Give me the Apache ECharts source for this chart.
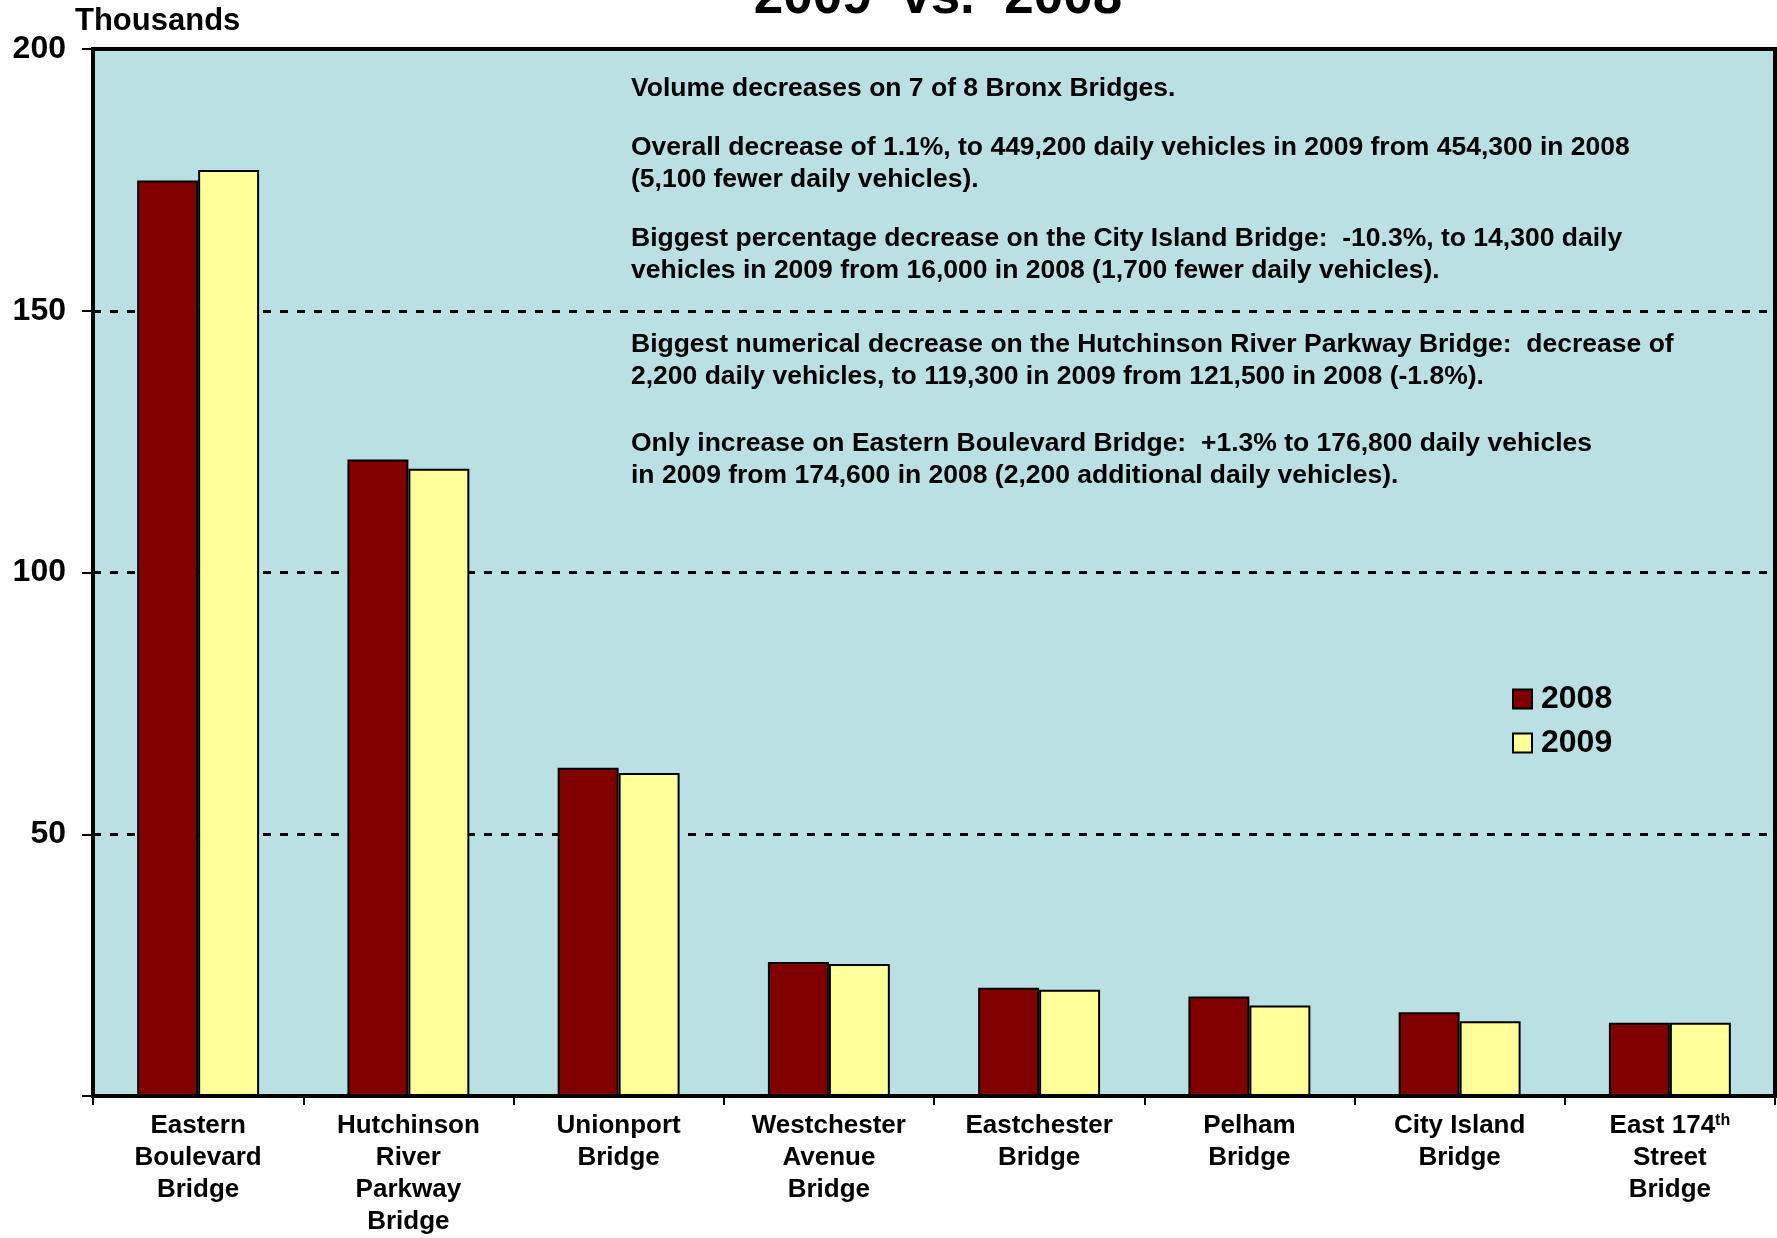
<!DOCTYPE html>
<html>
<head>
<meta charset="utf-8">
<title>Bronx Bridges 2009 vs. 2008</title>
<script src="https://cdn.jsdelivr.net/npm/echarts@6/dist/echarts.min.js"></script>
<style>
    html, body { margin: 0; padding: 0; background: #ffffff; }
    #chart_id { width: 1777px; height: 1238px; }
</style>
</head>
<body>
<div id="chart_id"></div>
<script>
// 数据（单位：千辆/日）
var categories = [
    'Eastern\nBoulevard\nBridge',
    'Hutchinson\nRiver\nParkway\nBridge',
    'Unionport\nBridge',
    'Westchester\nAvenue\nBridge',
    'Eastchester\nBridge',
    'Pelham\nBridge',
    'City Island\nBridge',
    'East 174th\nStreet\nBridge'
];
var seriesNames = ['2008', '2009'];
var values2008 = [174.9, 121.6, 62.7, 25.6, 20.7, 19.0, 16.0, 14.0];
var values2009 = [176.9, 119.8, 61.7, 25.2, 20.3, 17.3, 14.3, 14.0];
var yTicks = [0, 50, 100, 150, 200];

var notes = [
    'Volume decreases on 7 of 8 Bronx Bridges.',
    'Overall decrease of 1.1%, to 449,200 daily vehicles in 2009 from 454,300 in 2008\n(5,100 fewer daily vehicles).',
    'Biggest percentage decrease on the City Island Bridge:  -10.3%, to 14,300 daily\nvehicles in 2009 from 16,000 in 2008 (1,700 fewer daily vehicles).',
    'Biggest numerical decrease on the Hutchinson River Parkway Bridge:  decrease of\n2,200 daily vehicles, to 119,300 in 2009 from 121,500 in 2008 (-1.8%).',
    'Only increase on Eastern Boulevard Bridge:  +1.3% to 176,800 daily vehicles\nin 2009 from 174,600 in 2008 (2,200 additional daily vehicles).'
];
var noteTops = [73, 132, 223, 329, 428];

function initChart() {
    var font = '"Liberation Sans", Arial, sans-serif';
    var myChart = echarts.init(document.getElementById('chart_id'));

    var graphics = [
        {
            type: 'text', position: [938, -2],
            style: {
                text: '2009  vs.  2008',
                font: 'bold 53px ' + font, fill: '#000',
                align: 'center', verticalAlign: 'middle'
            }
        },
        {
            type: 'text', position: [75, 21],
            style: {
                text: 'Thousands', font: 'bold 31px ' + font, fill: '#000',
                align: 'left', verticalAlign: 'middle'
            }
        }
    ];
    for (var i = 0; i < notes.length; i++) {
        graphics.push({
            type: 'text', position: [631, noteTops[i]], z: 10,
            style: {
                text: notes[i], font: 'bold 26.5px ' + font, fill: '#000',
                lineHeight: 32, align: 'left', verticalAlign: 'top'
            }
        });
    }

    var option = {
        animation: false,
        backgroundColor: '#ffffff',
        textStyle: { fontFamily: font },
        grid: {
            left: 93, right: 2, top: 49, bottom: 139,
            show: true,
            backgroundColor: '#BBE0E3',
            borderColor: '#000',
            borderWidth: 4
        },
        legend: {
            orient: 'vertical',
            left: 1507, top: 678,
            itemWidth: 19, itemHeight: 19,
            itemGap: 12,
            icon: 'rect',
            data: seriesNames,
            textStyle: {
                fontSize: 32, fontWeight: 'bold', color: '#000', fontFamily: font,
                padding: [0, 0, 0, 4]
            }
        },
        xAxis: {
            type: 'category',
            data: categories,
            axisLine: { show: true, lineStyle: { color: '#000', width: 4 } },
            axisTick: { show: true, length: 9, lineStyle: { color: '#000', width: 2 } },
            axisLabel: {
                interval: 0, margin: 14,
                color: '#000', fontSize: 26, fontWeight: 'bold', lineHeight: 32,
                formatter: function (value) {
                    if (value.indexOf('174th') >= 0) {
                        return '{a|East 174}{sup|th}\n{a|Street}\n{a|Bridge}';
                    }
                    return value.split('\n').map(function (s) { return '{a|' + s + '}'; }).join('\n');
                },
                rich: {
                    a: { fontSize: 26, fontWeight: 'bold', lineHeight: 32, color: '#000', fontFamily: font },
                    sup: { fontSize: 16, fontWeight: 'bold', lineHeight: 32, color: '#000', fontFamily: font, padding: [0, 0, 11, 0] }
                }
            }
        },
        yAxis: {
            type: 'value',
            min: yTicks[0], max: yTicks[yTicks.length - 1], interval: 50,
            axisLine: { show: true, lineStyle: { color: '#000', width: 4 } },
            axisTick: { show: true, inside: false, length: 11, lineStyle: { color: '#000', width: 2 } },
            axisLabel: {
                margin: 27, color: '#000', fontSize: 32, fontWeight: 'bold',
                formatter: function (v) { return v === 0 ? '' : String(v); }
            },
            splitLine: { show: true, lineStyle: { color: '#000', width: 3, type: [8, 9] } }
        },
        series: [
            {
                name: seriesNames[0],
                type: 'bar',
                data: values2008,
                barGap: '0%',
                barCategoryGap: '42%',
                itemStyle: { color: '#800000', borderColor: '#000', borderWidth: 2 }
            },
            {
                name: seriesNames[1],
                type: 'bar',
                data: values2009,
                itemStyle: { color: '#FFFF99', borderColor: '#000', borderWidth: 2 }
            }
        ],
        graphic: graphics
    };
    myChart.setOption(option, true);
}

initChart();
</script>
</body>
</html>
